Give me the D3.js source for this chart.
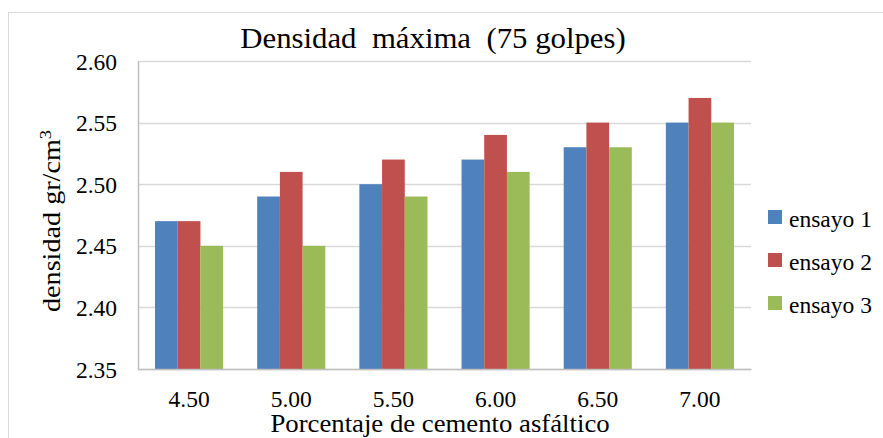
<!DOCTYPE html>
<html><head><meta charset="utf-8">
<script src="https://cdn.jsdelivr.net/npm/d3@7"></script>
<style>body{margin:0;background:#fff}svg{display:block}</style>
</head><body>
<svg id="c" width="883" height="438"></svg>
<script>
const categories = ["4.50","5.00","5.50","6.00","6.50","7.00"];
const seriesNames = ["ensayo 1","ensayo 2","ensayo 3"];
const ensayo1 = [2.47,2.49,2.50,2.52,2.53,2.55];
const ensayo2 = [2.47,2.51,2.52,2.54,2.55,2.57];
const ensayo3 = [2.45,2.45,2.49,2.51,2.53,2.55];
const yTicks = [2.35,2.40,2.45,2.50,2.55,2.60];
const colors = ["#4F81BD","#C0504D","#9BBB59"];
const series = [ensayo1, ensayo2, ensayo3];
const FONT = '"Liberation Serif"';

const svg = d3.select("#c");
svg.append("rect").attr("x",8.5).attr("y",12.5).attr("width",900).attr("height",440)
  .attr("fill","#fff").attr("stroke","#d9d9d9").attr("stroke-width",1);

const L=138,R=751,T=61,B=369;
const x = d3.scaleBand().domain(categories).range([L,R]).paddingInner(0).paddingOuter(0);
const y = d3.scaleLinear().domain([2.35,2.60]).range([B,T]);
const xs = d3.scaleBand().domain(seriesNames).range([0,x.bandwidth()]).paddingInner(0).paddingOuter(0.75);

svg.append("g").selectAll("line").data(yTicks).join("line")
  .attr("x1",L).attr("x2",R).attr("y1",d=>Math.round(y(d))+0.5).attr("y2",d=>Math.round(y(d))+0.5)
  .attr("stroke","#d9d9d9").attr("stroke-width",1.5);

seriesNames.forEach((s,i)=>{
  svg.append("g").selectAll("rect").data(series[i]).join("rect")
    .attr("x",(d,j)=>x(categories[j])+xs(s))
    .attr("width",xs.bandwidth())
    .attr("y",d=>y(d)).attr("height",d=>B-y(d))
    .attr("fill",colors[i]);
});

const ya = svg.append("g").attr("transform",`translate(${L},0)`)
  .call(d3.axisLeft(y).tickValues(yTicks).tickFormat(d3.format(".2f")).tickSize(0).tickPadding(21));
ya.attr("font-family",null).attr("font-size",null);
ya.select(".domain").attr("stroke","#bfbfbf").attr("stroke-width",1.5);
ya.selectAll("text").attr("dy","0.34em").attr("font-family",FONT).attr("font-size",23.5).attr("fill","#000");

const xa = svg.append("g").attr("transform",`translate(0,${B})`)
  .call(d3.axisBottom(x).tickSize(0).tickPadding(21));
xa.attr("font-family",null).attr("font-size",null);
xa.select(".domain").attr("stroke","#bfbfbf").attr("stroke-width",1.5);
xa.selectAll("text").attr("dy","0.71em").attr("font-family",FONT).attr("font-size",23.5).attr("fill","#000");

svg.append("text").attr("transform","translate(433,48) scale(1.08,1)").attr("text-anchor","middle")
  .attr("font-family",FONT).attr("font-size",28.5).style("white-space","pre")
  .text("Densidad  máxima  (75 golpes)");

svg.append("text").attr("transform","translate(440,432) scale(1.07,1)").attr("text-anchor","middle")
  .attr("font-family",FONT).attr("font-size",25).text("Porcentaje de cemento asfáltico");

const yt = svg.append("text").attr("transform","translate(60,221) rotate(-90) scale(1.15,1)").attr("text-anchor","middle")
  .attr("font-family",FONT).attr("font-size",24.5);
yt.append("tspan").text("densidad gr/cm");
yt.append("tspan").attr("dy","-9").attr("font-size",16).text("3");

const lg = svg.append("g");
seriesNames.forEach((s,i)=>{
  const cy = 217 + i*43;
  lg.append("rect").attr("x",768).attr("y",cy-7).attr("width",14).attr("height",14).attr("fill",colors[i]);
  lg.append("text").attr("x",789).attr("y",cy+9.5)
    .attr("font-family",FONT).attr("font-size",23.5).text(s);
});
</script>
</body></html>
